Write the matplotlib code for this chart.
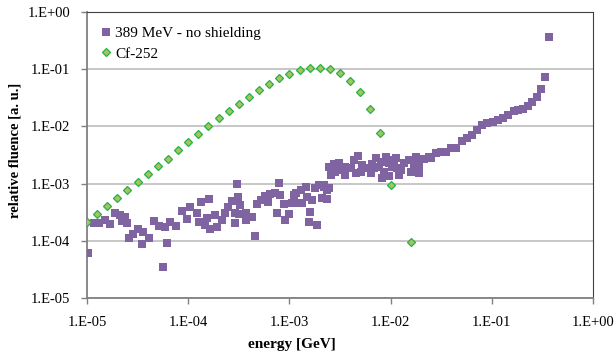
import numpy as np
import matplotlib
matplotlib.use('Agg')
import matplotlib.pyplot as plt
from matplotlib.ticker import FuncFormatter, LogLocator, NullLocator

plt.rcParams['font.family'] = ['Liberation Serif', 'DejaVu Serif']

# 389 MeV - no shielding (energy in GeV, relative fluence)
mev389_energy = [
    1.02e-5, 1.16e-5, 1.32e-5, 1.50e-5, 1.70e-5, 1.91e-5, 2.14e-5, 2.22e-5, 2.39e-5, 2.49e-5,
    2.62e-5, 2.83e-5, 3.20e-5, 3.58e-5, 3.51e-5, 4.08e-5, 4.57e-5, 5.20e-5, 5.88e-5, 5.62e-5,
    6.19e-5, 6.68e-5, 7.60e-5, 8.59e-5, 9.77e-5, 1.05e-4, 1.22e-4, 1.29e-4, 1.35e-4, 1.45e-4,
    1.53e-4, 1.61e-4, 1.65e-4, 1.82e-4, 1.92e-4, 2.16e-4, 2.29e-4, 2.47e-4, 2.71e-4, 2.92e-4,
    2.87e-4, 3.03e-4, 3.10e-4, 3.20e-4, 3.27e-4, 3.72e-4, 3.75e-4, 4.27e-4, 4.53e-4, 4.79e-4,
    5.28e-4, 5.78e-4, 6.15e-4, 6.48e-4, 7.15e-4, 7.55e-4, 7.83e-4, 8.15e-4, 8.79e-4, 9.12e-4,
    1.00e-3, 1.06e-3, 1.10e-3, 1.15e-3, 1.15e-3, 1.29e-3, 1.32e-3, 1.46e-3, 1.50e-3, 1.55e-3,
    1.61e-3, 1.68e-3, 1.78e-3, 1.88e-3, 1.95e-3, 2.11e-3, 2.19e-3, 2.19e-3, 2.36e-3, 2.36e-3,
    2.45e-3, 2.45e-3, 2.55e-3, 2.75e-3, 2.85e-3, 3.08e-3, 3.33e-3, 3.58e-3, 3.58e-3, 4.02e-3,
    4.34e-3, 4.57e-3, 4.79e-3, 5.05e-3, 5.25e-3, 5.88e-3, 6.34e-3, 6.49e-3, 6.79e-3, 7.22e-3,
    7.66e-3, 7.96e-3, 8.28e-3, 8.59e-3, 8.91e-3, 9.62e-3, 9.62e-3, 1.04e-2, 1.08e-2, 1.12e-2,
    1.16e-2, 1.21e-2, 1.26e-2, 1.36e-2, 1.52e-2, 1.58e-2, 1.69e-2, 1.77e-2, 1.91e-2, 1.91e-2,
    2.14e-2, 2.40e-2, 2.49e-2, 2.79e-2, 3.13e-2, 3.51e-2, 3.93e-2, 4.41e-2, 5.13e-2, 5.74e-2,
    6.44e-2, 7.21e-2, 8.09e-2, 9.06e-2, 0.102, 0.114, 0.128, 0.145, 0.164, 0.182,
    0.204, 0.226, 0.249, 0.277, 0.306, 0.337, 0.369,
]
mev389_fluence = [
    6.2e-5, 2.03e-4, 2.08e-4, 2.32e-4, 1.97e-4, 3.10e-4, 2.83e-4, 2.25e-4, 2.64e-4, 2.03e-4,
    1.11e-4, 1.32e-4, 1.59e-4, 1.45e-4, 8.8e-5, 1.11e-4, 2.22e-4, 1.82e-4, 1.73e-4, 3.46e-5,
    9.3e-5, 2.11e-4, 1.82e-4, 3.37e-4, 2.41e-4, 3.95e-4, 3.03e-4, 2.16e-4, 4.83e-4, 1.89e-4,
    2.48e-4, 5.38e-4, 1.59e-4, 2.83e-4, 1.77e-4, 2.32e-4, 3.03e-4, 3.86e-4, 5.03e-4, 3.10e-4,
    2.08e-4, 9.84e-4, 5.77e-4, 2.95e-4, 4.23e-4, 2.32e-4, 3.10e-4, 2.58e-4, 1.22e-4, 4.41e-4,
    5.18e-4, 6.08e-4, 4.83e-4, 6.59e-4, 6.78e-4, 3.10e-4, 1.01e-3, 6.32e-4, 4.41e-4, 2.32e-4,
    2.95e-4, 4.53e-4, 6.32e-4, 6.78e-4, 4.53e-4, 7.73e-4, 4.65e-4, 8.83e-4, 5.90e-4, 2.16e-4,
    3.23e-4, 5.18e-4, 8.28e-4, 1.89e-4, 9.46e-4, 5.53e-4, 8.83e-4, 9.4e-4, 7.73e-4, 5.32e-4,
    1.97e-3, 8.3e-4, 1.41e-3, 2.20e-3, 1.61e-3, 2.26e-3, 1.73e-3, 1.97e-3, 1.41e-3, 1.85e-3,
    2.58e-3, 1.51e-3, 3.03e-3, 1.59e-3, 2.11e-3, 1.85e-3, 1.51e-3, 2.20e-3, 1.87e-3, 2.77e-3,
    1.97e-3, 2.41e-3, 1.24e-3, 1.61e-3, 2.94e-3, 2.26e-3, 1.36e-3, 1.97e-3, 2.58e-3, 2.80e-3,
    1.85e-3, 1.41e-3, 1.73e-3, 2.26e-3, 2.58e-3, 1.61e-3, 2.11e-3, 2.94e-3, 2.11e-3, 1.51e-3,
    2.65e-3, 2.94e-3, 2.77e-3, 3.38e-3, 3.61e-3, 3.61e-3, 4.13e-3, 4.23e-3, 5.61e-3, 6.18e-3,
    7.05e-3, 8.61e-3, 1.05e-2, 1.13e-2, 1.20e-2, 1.29e-2, 1.38e-2, 1.57e-2, 1.87e-2, 1.92e-2,
    1.98e-2, 2.29e-2, 2.69e-2, 3.21e-2, 4.42e-2, 7.34e-2, 0.366,
]

# Cf-252 spectrum
cf252_energy = [
    1.00e-5, 1.26e-5, 1.58e-5, 2.00e-5, 2.51e-5, 3.16e-5, 3.98e-5, 5.01e-5, 6.31e-5, 7.94e-5,
    1.00e-4, 1.26e-4, 1.58e-4, 2.00e-4, 2.51e-4, 3.16e-4, 3.98e-4, 5.01e-4, 6.31e-4, 7.94e-4,
    1.00e-3, 1.26e-3, 1.58e-3, 2.00e-3, 2.51e-3, 3.16e-3, 3.98e-3, 5.01e-3, 6.31e-3, 7.94e-3,
    1.00e-2, 1.58e-2,
]
cf252_fluence = [
    2.09e-4, 2.91e-4, 4.06e-4, 5.53e-4, 7.64e-4, 1.05e-3, 1.45e-3, 2.00e-3, 2.74e-3, 3.81e-3,
    5.32e-3, 7.43e-3, 1.01e-2, 1.38e-2, 1.87e-2, 2.48e-2, 3.29e-2, 4.36e-2, 5.62e-2, 6.97e-2,
    8.41e-2, 9.62e-2, 1.05e-1, 1.07e-1, 1.00e-1, 8.45e-2, 6.25e-2, 3.92e-2, 1.98e-2, 7.55e-3,
    9.6e-4, 9.7e-5,
]

fig = plt.figure(figsize=(6.16, 3.58), dpi=100)
ax = fig.add_axes([87 / 616, 1 - 298 / 358, 506 / 616, 286 / 358])

ax.set_xscale('log')
ax.set_yscale('log')
ax.set_xlim(1e-5, 1)
ax.set_ylim(1e-5, 1)

ax.plot(mev389_energy, mev389_fluence, linestyle='none', marker='s', markersize=5.2,
        color='#8064A2', markeredgewidth=0, label='389 MeV - no shielding', zorder=3)
ax.plot(cf252_energy, cf252_fluence, linestyle='none', marker='D', markersize=4.0,
        markerfacecolor='#A8C45C', markeredgecolor='#22B24C', markeredgewidth=0.9,
        label='Cf-252', zorder=4)

fmt = FuncFormatter(lambda v, _: '1.E%+03d' % round(np.log10(v)))
ax.xaxis.set_major_locator(LogLocator(base=10, numticks=10))
ax.yaxis.set_major_locator(LogLocator(base=10, numticks=10))
ax.xaxis.set_minor_locator(NullLocator())
ax.yaxis.set_minor_locator(NullLocator())
ax.xaxis.set_major_formatter(fmt)
ax.yaxis.set_major_formatter(fmt)
ax.tick_params(axis='both', which='major', direction='out', length=4, width=1,
               color='#808080', labelsize=10.5)
ax.tick_params(axis='x', pad=9)
ax.tick_params(axis='y', pad=8)

ax.yaxis.grid(True, color='#BEBEBE', linewidth=1.2)
ax.set_axisbelow(True)

ax.spines['left'].set_color('#808080')
ax.spines['bottom'].set_color('#808080')
ax.spines['left'].set_linewidth(1.3)
ax.spines['bottom'].set_linewidth(1.3)
ax.spines['top'].set_color('#404040')
ax.spines['right'].set_color('#404040')

ax.set_xlabel('energy [GeV]', fontsize=11, fontweight='bold')
ax.set_ylabel('relative fluence [a. u.]', fontsize=10.5, fontweight='bold')
ax.xaxis.set_label_coords(0.405, -0.14)
ax.yaxis.set_label_coords(-0.13, 0.517)

leg = ax.legend(loc='upper left', frameon=False, fontsize=11, handlelength=0.6,
                handletextpad=0.3, borderaxespad=0.55, labelspacing=0.45, markerscale=1.0)

fig.savefig('out.png', dpi=100)
